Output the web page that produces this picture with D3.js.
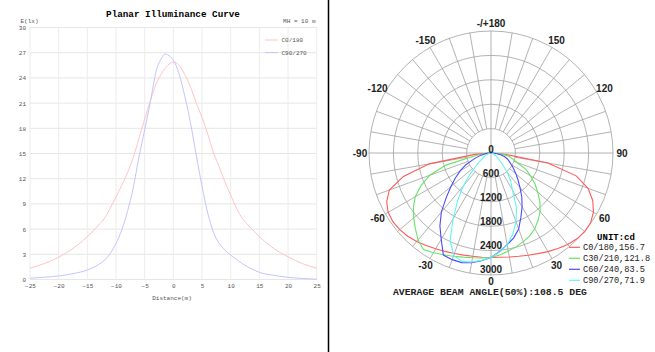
<!DOCTYPE html>
<html>
<head>
<meta charset="utf-8">
<script src="https://cdn.jsdelivr.net/npm/d3@7"></script>
<style>
  body { margin: 0; background: #fff; }
  svg { display: block; }
</style>
</head>
<body>
<div id="chart"></div>
<script>
// ---- planar illuminance data (distance in m, E in lx)
const distances = [-25, -22.5, -20, -17.5, -15, -13, -12, -11, -10, -9, -8, -7, -6, -5, -4, -3, -2, -1.5, -1, 0,
  1, 2, 3, 4, 5, 6, 7, 8, 9, 10, 11, 12, 13, 15, 17.5, 20, 22.5, 25];
const illumC0 = [1.35, 1.9, 2.65, 3.7, 5.1, 6.5, 7.3, 8.5, 9.85, 11.2, 12.7, 14.5, 16.8, 19.1, 21.3, 23.3, 24.6, 25.1, 25.5, 25.86,
  25.5, 24.4, 22.9, 21.0, 19.3, 17.3, 15.1, 13.4, 11.6, 10.05, 8.5, 7.3, 6.5, 5.1, 3.7, 2.7, 1.9, 1.33];
const illumC90 = [0.15, 0.27, 0.42, 0.7, 1.13, 1.8, 2.3, 3.1, 4.3, 5.9, 8.1, 10.9, 14.6, 17.8, 21.2, 24.8, 26.4, 26.85, 26.75, 26.1,
  24.5, 21.8, 18.6, 14.8, 11.1, 7.9, 5.6, 4.3, 3.5, 2.9, 2.4, 1.9, 1.5, 0.85, 0.5, 0.26, 0.12, 0.03];
const xTicks = [-25, -20, -15, -10, -5, 0, 5, 10, 15, 20, 25];
const yTicks = [0, 3, 6, 9, 12, 15, 18, 21, 24, 27, 30];
const planarNames = ["C0/180", "C90/270"];

// ---- polar intensity data (gamma in deg, I in cd); right side = first plane, left side = second plane
const gammas = [0, 5, 10, 15, 20, 25, 30, 35, 40, 45, 50, 55, 60, 65, 70, 75, 80, 85, 90];
const c0   = [2570, 2575, 2595, 2630, 2675, 2730, 2800, 2870, 2935, 2985, 3010, 2990, 2910, 2760, 2540, 2170, 1420, 350, 0];
const c180 = [2570, 2572, 2580, 2600, 2630, 2670, 2720, 2780, 2840, 2895, 2930, 2945, 2920, 2830, 2660, 2230, 1540, 400, 0];
const c30  = [2570, 2520, 2450, 2390, 2320, 2250, 2150, 2020, 1880, 1700, 1500, 1320, 1120, 950, 680, 540, 440, 230, 0];
const c210 = [2570, 2590, 2615, 2650, 2700, 2760, 2830, 2900, 2790, 2630, 2480, 2330, 2150, 1900, 1600, 1150, 400, 150, 0];
const c60  = [2570, 2430, 2290, 2160, 1990, 1740, 1530, 1320, 1110, 940, 800, 680, 580, 500, 430, 340, 240, 120, 0];
const c240 = [2570, 2660, 2740, 2790, 2790, 2770, 2450, 2190, 1900, 1560, 1290, 1070, 870, 680, 460, 320, 200, 100, 0];
const c90  = [2570, 2440, 2290, 2070, 1800, 1480, 1060, 840, 630, 400, 260, 200, 140, 100, 70, 50, 30, 15, 0];
const c270 = [2570, 2650, 2720, 2760, 2680, 2380, 1860, 1430, 1060, 720, 450, 300, 210, 140, 90, 60, 40, 20, 0];
const ringValues = [0, 600, 1200, 1800, 2400, 3000];
const angleLabels = [-150, -120, -90, -60, -30, 0, 30, 60, 90, 120, 150, 180];
const polarNames = ["C0/180,156.7", "C30/210,121.8", "C60/240,83.5", "C90/270,71.9"];

const W = 655, H = 352;
const mono = "'Liberation Mono', 'Courier New', monospace";
const sans = "'Liberation Sans', Arial, sans-serif";

const svg = d3.select("#chart").append("svg")
  .attr("width", W)
  .attr("height", H);

// ================= left: planar illuminance curve =================
const x = d3.scaleLinear().domain([-25, 25]).range([30, 316.7]);
const y = d3.scaleLinear().domain([0, 30]).range([279.5, 27.5]);

const left = svg.append("g");

// grid
left.append("g").selectAll("line").data(yTicks).join("line")
  .attr("x1", x(-25)).attr("x2", x(25))
  .attr("y1", d => y(d)).attr("y2", d => y(d))
  .attr("stroke", "#e6e6e6").attr("stroke-width", 1);
left.append("g").selectAll("line").data(xTicks).join("line")
  .attr("x1", d => x(d)).attr("x2", d => x(d))
  .attr("y1", y(0)).attr("y2", y(30))
  .attr("stroke", "#ececec").attr("stroke-width", 1);

// axes (labels only)
const xAxis = d3.axisBottom(x).tickValues(xTicks).tickSize(0).tickPadding(4);
const yAxis = d3.axisLeft(y).tickValues(yTicks).tickSize(0).tickPadding(4);
left.append("g").attr("transform", `translate(0,${y(0)})`).call(xAxis)
  .call(g => g.select(".domain").remove())
  .selectAll("text").attr("font-family", mono).attr("font-size", 6).attr("fill", "#555");
left.append("g").attr("transform", `translate(${x(-25)},0)`).call(yAxis)
  .call(g => g.select(".domain").remove())
  .selectAll("text").attr("font-family", mono).attr("font-size", 6).attr("fill", "#555");

// curves
const planarColors = ["#ffc4c4", "#c4c4ff"];
const planarSeries = [illumC0, illumC90];
const line = d3.line()
  .x((d, i) => x(distances[i]))
  .y(d => y(d))
  .curve(d3.curveMonotoneX);
left.append("g").selectAll("path").data(planarSeries).join("path")
  .attr("fill", "none")
  .attr("stroke", (d, i) => planarColors[i])
  .attr("stroke-width", 1)
  .attr("d", d => line(d));

// titles
left.append("text")
  .attr("x", 173).attr("y", 17)
  .attr("text-anchor", "middle")
  .attr("font-family", mono).attr("font-weight", "bold").attr("font-size", 9.3)
  .text("Planar Illuminance Curve");
left.append("text")
  .attr("x", 20.5).attr("y", 22.5)
  .attr("font-family", mono).attr("font-size", 6).attr("fill", "#555")
  .text("E(lx)");
left.append("text")
  .attr("x", 315.5).attr("y", 22.5)
  .attr("text-anchor", "end")
  .attr("font-family", mono).attr("font-size", 6).attr("fill", "#555")
  .text("MH = 10 m");
left.append("text")
  .attr("x", 172).attr("y", 299.5)
  .attr("text-anchor", "middle")
  .attr("font-family", mono).attr("font-size", 6).attr("fill", "#555")
  .text("Distance(m)");

// legend
const pLegend = left.append("g").selectAll("g").data(planarNames).join("g")
  .attr("transform", (d, i) => `translate(265,${40 + i * 12.6})`);
pLegend.append("line")
  .attr("x1", 0).attr("x2", 13).attr("y1", 0).attr("y2", 0)
  .attr("stroke", (d, i) => planarColors[i]).attr("stroke-width", 1);
pLegend.append("text")
  .attr("x", 16.5).attr("y", 2)
  .attr("font-family", mono).attr("font-size", 6).attr("fill", "#555")
  .text(d => d);

// divider
svg.append("line")
  .attr("x1", 328.5).attr("x2", 328.5).attr("y1", 0).attr("y2", H)
  .attr("stroke", "#000").attr("stroke-width", 1.5);

// ================= right: polar intensity diagram =================
const cx = 491, cy = 153, R = 122;
const r = d3.scaleLinear().domain([0, 3000]).range([0, R]);
const polar = svg.append("g").attr("transform", `translate(${cx},${cy})`);
const gridColor = "#a0a0a0";

// rings
polar.append("g").selectAll("circle").data(ringValues.slice(1)).join("circle")
  .attr("r", d => r(d))
  .attr("fill", "none").attr("stroke", gridColor).attr("stroke-width", 0.8);

// spokes every 10 deg (from first ring), axes through centre
const spokeAngles = d3.range(0, 360, 10);
polar.append("g").selectAll("line").data(spokeAngles).join("line")
  .attr("x1", d => (d % 90 === 0 ? 0 : r(600)) * Math.sin(d * Math.PI / 180))
  .attr("y1", d => (d % 90 === 0 ? 0 : r(600)) * Math.cos(d * Math.PI / 180))
  .attr("x2", d => R * Math.sin(d * Math.PI / 180))
  .attr("y2", d => R * Math.cos(d * Math.PI / 180))
  .attr("stroke", gridColor).attr("stroke-width", 0.8);

// curves
const polarColors = ["#ff5a5a", "#66e466", "#4b4bff", "#5ff5f5"];
const planes = [[c0, c180], [c30, c210], [c60, c240], [c90, c270]];
const radial = d3.lineRadial()
  .angle(d => Math.PI - d[0] * Math.PI / 180)
  .radius(d => r(d[1]));
polar.append("g").selectAll("path").data(planes).join("path")
  .attr("fill", "none")
  .attr("stroke", (d, i) => polarColors[i])
  .attr("stroke-width", 1.1)
  .attr("d", d => {
    const pts = [];
    for (let k = gammas.length - 1; k >= 0; k--) pts.push([-gammas[k], d[1][k]]);
    for (let k = 1; k < gammas.length; k++) pts.push([gammas[k], d[0][k]]);
    return radial(pts);
  });

// ring labels
polar.append("g").selectAll("text").data(ringValues).join("text")
  .attr("x", 0).attr("y", d => r(d) * 0.983)
  .attr("text-anchor", "middle")
  .attr("font-family", sans).attr("font-weight", "bold").attr("font-size", 10)
  .attr("fill", "#222")
  .text(d => d);

// angle labels
polar.append("g").selectAll("text").data(angleLabels).join("text")
  .attr("x", d => 131 * Math.sin(d * Math.PI / 180))
  .attr("y", d => (d === 0 ? 128 : 130) * Math.cos(d * Math.PI / 180))
  .attr("dy", "0.36em")
  .attr("text-anchor", "middle")
  .attr("font-family", sans).attr("font-weight", "bold").attr("font-size", 10)
  .attr("fill", "#222")
  .text(d => d === 180 ? "-/+180" : d);

// legend
svg.append("text")
  .attr("x", 616).attr("y", 240)
  .attr("text-anchor", "middle")
  .attr("font-family", mono).attr("font-weight", "bold").attr("font-size", 9)
  .text("UNIT:cd");
const legend = svg.append("g").selectAll("g").data(polarNames).join("g")
  .attr("transform", (d, i) => `translate(569,${247.3 + i * 11})`);
legend.append("line")
  .attr("x1", 0).attr("x2", 11).attr("y1", 0).attr("y2", 0)
  .attr("stroke", (d, i) => polarColors[i]).attr("stroke-width", 1.2);
legend.append("text")
  .attr("x", 14).attr("y", 3)
  .attr("font-family", mono).attr("font-size", 8.6)
  .attr("fill", "#222")
  .text(d => d);

svg.append("text")
  .attr("x", 490).attr("y", 295)
  .attr("text-anchor", "middle")
  .attr("font-family", mono).attr("font-weight", "bold").attr("font-size", 9.8)
  .attr("fill", "#222")
  .text("AVERAGE BEAM ANGLE(50%):108.5 DEG");
</script>
</body>
</html>
